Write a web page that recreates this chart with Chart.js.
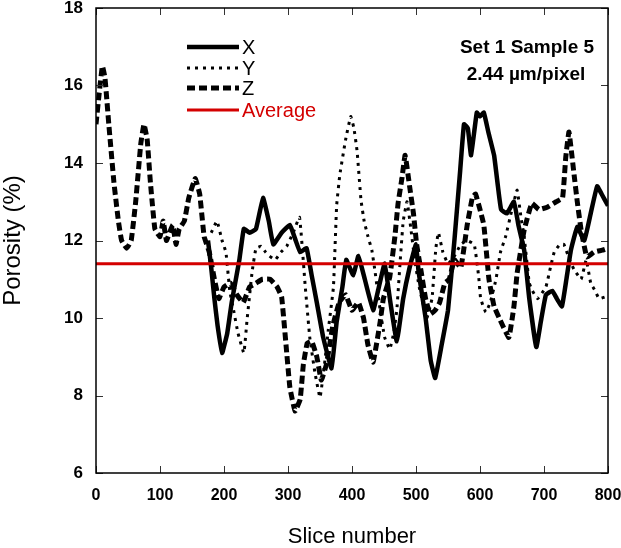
<!DOCTYPE html>
<html>
<head>
<meta charset="utf-8">
<script src="https://cdn.jsdelivr.net/npm/chart.js@4.4.1/dist/chart.umd.min.js"></script>
<style>
  html, body { margin: 0; padding: 0; background: #fff; }
  #wrap { width: 621px; height: 548px; }
</style>
</head>
<body>
<div id="wrap"><canvas id="chartPorosity" width="621" height="548"></canvas></div>
<script>
// porosity along the slices
const xSlices = [175,180,185,190,197,205,212,224,231,240,250,261,270,277,290,303,312,319,329,337,345,355,368,376,385,391,402,410,420,433,442,451,460,470,480,490,500,504,515,523,530,540,550,560,569,575,581,586,595,600,606,613,622,628,633,642,653,660,669,677,688,695,703,713,720,728,735,742,752,763,773,783,790,800];
const xPorosity = [12.0,11.3,10.5,9.8,9.1,9.6,10.4,11.5,12.3,12.2,12.3,13.1,12.5,11.9,12.2,12.4,12.0,11.7,11.8,11.1,10.4,9.5,8.7,9.9,10.8,11.5,11.1,11.6,11.0,10.2,10.8,11.4,10.4,9.4,10.5,11.3,11.9,11.2,10.0,8.9,8.45,9.3,10.2,12.0,13.8,15.0,14.9,14.2,15.3,15.2,15.3,14.8,14.2,13.4,12.8,12.7,13.0,12.4,11.75,10.5,9.25,9.9,10.6,10.7,10.5,10.3,11.0,11.75,12.35,12.0,12.7,13.4,13.2,12.9];

const ySlices = [180,189,197,203,209,215,222,231,236,244,250,258,265,271,280,289,298,308,318,327,334,342,350,357,363,371,376,381,390,398,403,408,414,419,425,431,436,444,451,459,465,470,475,480,486,492,498,505,512,517,525,531,535,542,550,560,570,580,591,598,601,609,616,625,632,640,650,658,664,669,677,682,690,703,710,716,725,731,740,747,758,766,773,780,786,797];
const yPorosity = [12.2,12.5,12.0,11.7,10.7,10.2,9.6,9.1,9.95,11.2,11.8,11.85,11.7,11.6,11.5,11.7,11.85,12.2,12.6,10.8,9.5,8.6,7.95,8.8,9.7,10.8,12.9,13.7,14.6,15.2,14.9,14.3,13.05,12.5,12.1,11.75,11.2,10.2,9.5,9.2,9.6,10.2,11.4,12.5,13.0,12.3,11.5,10.8,10.3,10.0,10.5,11.8,12.2,11.7,11.4,11.6,11.9,12.0,11.9,11.06,10.5,10.15,10.4,11.0,11.7,12.1,12.8,13.3,12.6,12.1,10.9,10.7,10.5,10.8,11.3,11.7,11.9,11.9,11.5,11.25,11.0,11.5,10.9,10.7,10.5,10.55];

const zSlices = [0,5,10,14,20,28,35,40,48,55,62,70,75,80,85,92,100,105,110,115,120,125,130,138,145,155,162,169,177,185,192,200,210,220,230,240,250,260,272,283,290,298,303,311,319,324,330,337,345,352,360,370,380,390,400,410,418,425,433,444,449,459,467,472,478,483,490,496,501,508,515,522,530,537,545,552,560,570,580,588,593,600,606,614,622,630,645,653,658,669,681,692,705,719,729,734,739,747,752,758,767,778,791,800];
const zPorosity = [15.0,15.8,16.5,16.2,15.0,13.5,12.5,12.0,11.8,12.0,13.0,14.5,15.0,14.6,13.5,12.3,12.1,12.5,12.0,12.2,12.4,11.9,12.3,12.5,13.1,13.6,13.2,12.1,11.7,11.0,10.5,10.8,10.9,10.6,10.4,10.8,10.9,11.0,11.0,10.8,10.55,9.1,8.2,7.6,7.9,8.8,9.35,9.4,9.0,8.4,8.8,9.8,10.4,10.6,10.2,10.4,10.0,9.3,8.86,9.9,10.5,11.06,12.1,12.96,13.6,14.2,13.4,12.7,11.9,11.2,10.5,10.1,10.2,10.4,10.9,11.0,11.5,11.3,12.4,13.1,13.2,12.8,12.4,11.0,10.3,10.0,9.5,10.3,11.15,12.27,12.96,12.8,12.86,13.0,13.1,14.15,14.8,13.7,13.0,12.27,11.57,11.7,11.75,11.8];

const avgSlices = [0, 800];
const avgPorosity = [11.4, 11.4];

const sliceTicks = [0, 100, 200, 300, 400, 500, 600, 700, 800];
const porosityTicks = [6, 8, 10, 12, 14, 16, 18];

const FONT = "Arial, 'Liberation Sans', sans-serif";

const toPoints = (xs, ys) => xs.map((s, i) => ({ x: s, y: ys[i] }));

// frame, inward ticks, legend and sample note
const decorPlugin = {
  id: 'decor',
  afterDatasetsDraw(chart) {
    const { ctx, chartArea: a, scales } = chart;
    ctx.save();

    // ticks pointing in, on all four sides
    ctx.strokeStyle = '#333';
    ctx.lineWidth = 1;
    const tl = 7;
    ctx.beginPath();
    sliceTicks.forEach(v => {
      const px = Math.round(scales.x.getPixelForValue(v)) + 0.5;
      ctx.moveTo(px, a.bottom); ctx.lineTo(px, a.bottom - tl);
      ctx.moveTo(px, a.top); ctx.lineTo(px, a.top + tl);
    });
    porosityTicks.forEach(v => {
      const py = Math.round(scales.y.getPixelForValue(v)) + 0.5;
      ctx.moveTo(a.left, py); ctx.lineTo(a.left + tl, py);
      ctx.moveTo(a.right, py); ctx.lineTo(a.right - tl, py);
    });
    ctx.stroke();

    ctx.strokeStyle = '#000';
    ctx.lineWidth = 1.5;
    ctx.strokeRect(a.left, a.top, a.right - a.left, a.bottom - a.top);

    // legend
    const rows = [
      { ds: chart.data.datasets[0], dy: 39 },
      { ds: chart.data.datasets[1], dy: 60 },
      { ds: chart.data.datasets[2], dy: 80 },
      { ds: chart.data.datasets[3], dy: 102 }
    ];
    rows.forEach(r => {
      const y = a.top + r.dy;
      ctx.beginPath();
      ctx.setLineDash(r.ds.borderDash || []);
      ctx.strokeStyle = r.ds.borderColor;
      ctx.lineWidth = r.ds.borderWidth;
      ctx.lineCap = 'butt';
      ctx.moveTo(a.left + 91, y);
      ctx.lineTo(a.left + 143, y);
      ctx.stroke();
      ctx.setLineDash([]);
      ctx.fillStyle = r.ds.borderColor;
      ctx.font = '20px ' + FONT;
      ctx.textAlign = 'left';
      ctx.textBaseline = 'middle';
      ctx.fillText(r.ds.label, a.left + 146, y + 1);
    });

    // sample note
    ctx.fillStyle = '#000';
    ctx.font = 'bold 19px ' + FONT;
    ctx.textAlign = 'center';
    ctx.textBaseline = 'alphabetic';
    ctx.fillText('Set 1 Sample 5', a.left + 431, a.top + 45);
    ctx.fillText('2.44 \u00b5m/pixel', a.left + 430, a.top + 72);

    ctx.restore();
  }
};

new Chart(document.getElementById('chartPorosity').getContext('2d'), {
  type: 'line',
  data: {
    datasets: [
      {
        label: 'X',
        data: toPoints(xSlices, xPorosity),
        borderColor: '#000',
        borderWidth: 4.5,
        order: 2
      },
      {
        label: 'Y',
        data: toPoints(ySlices, yPorosity),
        borderColor: '#000',
        borderWidth: 3,
        borderDash: [3, 5],
        order: 3
      },
      {
        label: 'Z',
        data: toPoints(zSlices, zPorosity),
        borderColor: '#000',
        borderWidth: 5,
        borderDash: [8, 4],
        order: 4
      },
      {
        label: 'Average',
        data: toPoints(avgSlices, avgPorosity),
        borderColor: '#d40000',
        borderWidth: 3,
        order: 1
      }
    ]
  },
  options: {
    responsive: false,
    animation: false,
    elements: {
      point: { radius: 0, hoverRadius: 0 },
      line: { tension: 0.1, fill: false, borderCapStyle: 'butt' }
    },
    layout: { padding: { top: 8, right: 13, bottom: 0, left: 0 } },
    plugins: {
      legend: { display: false },
      tooltip: { enabled: false }
    },
    scales: {
      x: {
        type: 'linear',
        min: 0,
        max: 800,
        afterBuildTicks: s => { s.ticks = sliceTicks.map(v => ({ value: v })); },
        afterFit: s => { s.height = 75; s.paddingLeft = 0; s.paddingRight = 0; },
        grid: { display: false, drawTicks: false },
        border: { display: false },
        ticks: {
          color: '#000',
          padding: 15,
          maxRotation: 0,
          font: { family: FONT, size: 16, weight: 'bold', lineHeight: 1 }
        },
        title: {
          display: true,
          text: 'Slice number',
          color: '#000',
          padding: { top: 0, bottom: 0 },
          font: { family: FONT, size: 22, lineHeight: 1 }
        }
      },
      y: {
        min: 6,
        max: 18,
        afterBuildTicks: s => { s.ticks = porosityTicks.map(v => ({ value: v })); },
        afterFit: s => { s.width = 96; s.paddingTop = 0; s.paddingBottom = 0; },
        grid: { display: false, drawTicks: false },
        border: { display: false },
        ticks: {
          color: '#000',
          padding: 13,
          font: { family: FONT, size: 17, weight: 'bold', lineHeight: 1 }
        },
        title: {
          display: true,
          text: 'Porosity (%)',
          color: '#000',
          padding: { top: 1, bottom: 0 },
          font: { family: FONT, size: 24, lineHeight: 1 }
        }
      }
    }
  },
  plugins: [decorPlugin]
});
</script>
</body>
</html>
